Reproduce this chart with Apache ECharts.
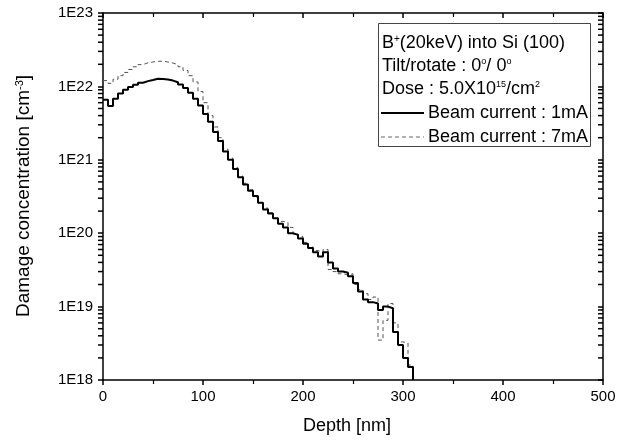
<!DOCTYPE html>
<html>
<head>
<meta charset="utf-8">
<script src="https://cdn.jsdelivr.net/npm/echarts@6/dist/echarts.min.js"></script>
<style>
html,body{margin:0;padding:0;background:#fff;}
#chart{width:623px;height:442px;}
</style>
</head>
<body>
<div id="chart"></div>
<script>
// Depth bins (left edge, nm)
const depthNm = [0,5,10,15,20,25,30,35,40,45,50,55,60,65,70,75,80,85,90,95,
  100,105,110,115,120,125,130,135,140,145,150,155,160,165,170,175,180,185,190,195,
  200,205,210,215,220,225,230,235,240,245,250,255,260,265,270,275,280,285,290,295,
  300,305,310];
// Beam current 1 mA (cm^-3)
const current1mA = [6.6e21,5.4e21,6.8e21,8.0e21,9.0e21,9.8e21,1.05e22,1.12e22,1.18e22,1.22e22,
  1.27e22,1.26e22,1.24e22,1.2e22,1.14e22,1.06e22,9.5e21,8.2e21,6.8e21,5.5e21,
  4.2e21,3.3e21,2.4e21,1.8e21,1.3e21,1.0e21,7.5e20,5.8e20,4.6e20,3.8e20,
  3.2e20,2.6e20,2.1e20,1.85e20,1.6e20,1.35e20,1.2e20,1.0e20,9.5e19,8.5e19,
  7.2e19,6.3e19,5.5e19,4.8e19,5.5e19,4.0e19,3.3e19,3.0e19,2.9e19,2.6e19,
  2.1e19,1.6e19,1.25e19,1.15e19,1.1e19,9e18,1.0e19,9.5e18,4.5e18,3.0e18,
  2.0e18,1.5e18,1e18];
// Beam current 7 mA (cm^-3)
const current7mA = [1.2e22,1.1e22,1.25e22,1.4e22,1.55e22,1.7e22,1.85e22,1.98e22,2.1e22,2.15e22,
  2.2e22,2.2e22,2.15e22,2.08e22,1.98e22,1.85e22,1.65e22,1.4e22,1.15e22,8.5e21,
  6.0e21,4.0e21,2.8e21,2.0e21,1.4e21,1.05e21,7.8e20,6.0e20,4.8e20,3.9e20,
  3.1e20,2.6e20,2.2e20,1.9e20,1.6e20,1.45e20,1.4e20,1.2e20,9.8e19,9.0e19,
  7.5e19,6.5e19,5.8e19,5.5e19,6.0e19,3.2e19,3.0e19,2.8e19,2.7e19,2.8e19,
  2.0e19,1.7e19,1.5e19,1.25e19,1.35e19,3.5e18,6.5e18,1.1e19,6.0e18,3.3e18,
  3.2e18,1.6e18,1e18];
const xTicks = [0,100,200,300,400,500];
const yTickLabels = {18:'1E18',19:'1E19',20:'1E20',21:'1E21',22:'1E22',23:'1E23'};
const seriesNames = ['Beam current : 1mA','Beam current : 7mA'];
// log-spaced minor tick values (2..9 x 10^n)
const yMinorTicks = [];
for (let d = 18; d < 23; d++) for (let k = 2; k <= 9; k++) yMinorTicks.push(k * Math.pow(10, d));

const FONT = 'Liberation Sans, Arial, sans-serif';
const chart = echarts.init(document.getElementById('chart'));

function pairs(xs, ys){ return xs.map((x,i)=>[x, ys[i]]); }

const axisLineStyle = {color:'#000', width:1.5};
function minorTickSeries(xVal){
  return {
    type:'scatter', clip:false, silent:true, z:10,
    symbol:'rect', symbolSize:[5,1.5], symbolOffset:[-2.5,0],
    itemStyle:{color:'#000', opacity:1},
    data:yMinorTicks.map(v=>[xVal, v]),
    emphasis:{disabled:true}, tooltip:{show:false}
  };
}
const option = {
  animation:false,
  backgroundColor:'#fff',
  textStyle:{fontFamily:FONT},
  grid:{left:103, right:20, top:13, bottom:62, containLabel:false},
  xAxis:[{
    type:'value', min:0, max:500, interval:100, position:'bottom',
    axisLine:{show:true, onZero:false, lineStyle:axisLineStyle},
    axisTick:{show:true, inside:false, length:5, lineStyle:{color:'#000', width:1.5}},
    minorTick:{show:true, splitNumber:2, length:4, lineStyle:{color:'#000', width:1.2}},
    axisLabel:{color:'#000', fontSize:15, margin:9, fontFamily:FONT},
    splitLine:{show:false},
    name:'Depth [nm]', nameLocation:'middle', nameGap:37,
    nameTextStyle:{color:'#000', fontSize:18, fontFamily:FONT, padding:[0,12,0,0]}
  },{
    type:'value', min:0, max:500, interval:100, position:'top',
    axisLine:{show:true, onZero:false, lineStyle:axisLineStyle},
    axisTick:{show:true, inside:true, length:5, lineStyle:{color:'#000', width:1.5}},
    minorTick:{show:true, splitNumber:2, length:4, lineStyle:{color:'#000', width:1.2}},
    axisLabel:{show:false}, splitLine:{show:false}
  }],
  yAxis:[{
    type:'log', logBase:10, min:1e18, max:1e23, position:'left',
    axisLine:{show:true, onZero:false, lineStyle:axisLineStyle},
    axisTick:{show:true, inside:false, length:5, lineStyle:{color:'#000', width:1.5}},
    axisLabel:{color:'#000', fontSize:15, margin:10, fontFamily:FONT,
      formatter:function(v){ const e = Math.round(Math.log10(v)); return yTickLabels[e] || ''; }},
    splitLine:{show:false}
  },{
    type:'log', logBase:10, min:1e18, max:1e23, position:'right',
    axisLine:{show:true, onZero:false, lineStyle:axisLineStyle},
    axisTick:{show:true, inside:true, length:5, lineStyle:{color:'#000', width:1.5}},
    axisLabel:{show:false}, splitLine:{show:false}
  }],
  series:[{
    name:seriesNames[0], type:'line', step:'end', showSymbol:false, symbol:'none',
    data:pairs(depthNm, current1mA), z:3,
    lineStyle:{color:'#000', width:2}, itemStyle:{color:'#000'}
  },{
    name:seriesNames[1], type:'line', step:'end', showSymbol:false, symbol:'none',
    data:pairs(depthNm, current7mA), z:2,
    lineStyle:{color:'#555', width:1, type:[4,3]}, itemStyle:{color:'#555'}
  },
  minorTickSeries(0),
  minorTickSeries(500)
  ],
  graphic:[
    {type:'rect', shape:{x:378.5, y:23.5, width:212, height:123}, z:1,
      style:{fill:'#fff', stroke:'#444', lineWidth:1}},
    {type:'text', x:382, y:43, z:5, style:{
      text:'B{sup|+}(20keV) into Si (100)', fontSize:18, fontFamily:FONT, fill:'#000',
      textVerticalAlign:'middle',
      rich:{sup:{fontSize:10, verticalAlign:'top', fontFamily:FONT, fill:'#000'}}}},
    {type:'text', x:382, y:66, z:5, style:{
      text:'Tilt/rotate : 0{sup|o}/ 0{sup|o}', fontSize:18, fontFamily:FONT, fill:'#000',
      textVerticalAlign:'middle',
      rich:{sup:{fontSize:9, verticalAlign:'top', fontFamily:FONT, fill:'#000'}}}},
    {type:'text', x:382, y:89, z:5, style:{
      text:'Dose : 5.0X10{sup|15}/cm{sup|2}', fontSize:18, fontFamily:FONT, fill:'#000',
      textVerticalAlign:'middle',
      rich:{sup:{fontSize:9, verticalAlign:'top', fontFamily:FONT, fill:'#000'}}}},
    {type:'line', z:5, shape:{x1:381, y1:113, x2:424, y2:113}, style:{stroke:'#000', lineWidth:2}},
    {type:'text', x:428, y:113, z:5, style:{text:seriesNames[0], fontSize:18, fontFamily:FONT,
      fill:'#000', textVerticalAlign:'middle'}},
    {type:'line', z:5, shape:{x1:381, y1:137, x2:424, y2:137}, style:{stroke:'#666', lineWidth:1, lineDash:[4,3]}},
    {type:'text', x:428, y:137, z:5, style:{text:seriesNames[1], fontSize:18, fontFamily:FONT,
      fill:'#000', textVerticalAlign:'middle'}},
    {type:'text', x:24, y:196, rotation:Math.PI/2, z:5, style:{
      text:'Damage concentration [cm{sup|-3}]', fontSize:19, fontFamily:FONT, fill:'#000',
      textAlign:'center', textVerticalAlign:'middle',
      rich:{sup:{fontSize:11, verticalAlign:'top', fontFamily:FONT, fill:'#000'}}}}
  ]
};
chart.setOption(option);
</script>
</body>
</html>
